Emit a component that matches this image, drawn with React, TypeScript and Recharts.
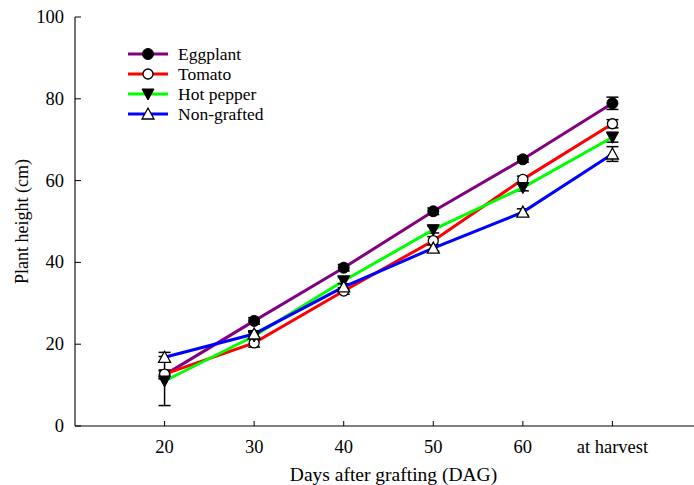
import React from 'react';
import { LineChart, Line, XAxis, YAxis, ErrorBar } from 'recharts';

const stages = ['20', '30', '40', '50', '60', 'at harvest'];

const eggplant = [12.5, 25.7, 38.7, 52.5, 65.2, 78.9];
const eggplantErr = [1.0, 0.8, 0.8, 0.8, 0.7, 1.5];
const tomato = [12.7, 20.3, 33.0, 45.3, 60.3, 73.9];
const tomatoErr = [1.0, 1.0, 0.8, 1.0, 0.8, 1.0];
const hotPepper = [11.0, 22.0, 35.5, 48.0, 58.3, 70.6];
const hotPepperErr = [6.0, 0.8, 0.8, 0.8, 0.8, 1.2];
const nonGrafted = [16.8, 22.5, 34.0, 43.5, 52.3, 66.5];
const nonGraftedErr = [1.2, 0.8, 0.8, 0.8, 0.8, 1.8];

const yTicks = [0, 20, 40, 60, 80, 100];

const data = stages.map((s, i) => ({
  x: i,
  stage: s,
  eggplant: eggplant[i],
  eggplantErr: eggplantErr[i],
  tomato: tomato[i],
  tomatoErr: tomatoErr[i],
  hotPepper: hotPepper[i],
  hotPepperErr: hotPepperErr[i],
  nonGrafted: nonGrafted[i],
  nonGraftedErr: nonGraftedErr[i],
}));

const FONT = "'Liberation Serif', 'Times New Roman', serif";

type Shape = 'filledCircle' | 'openCircle' | 'downTri' | 'upTri';

const Marker = ({ cx, cy, shape }: { cx: number; cy: number; shape: Shape }) => {
  if (cx == null || cy == null) return null;
  if (shape === 'filledCircle') return <circle cx={cx} cy={cy} r={5.5} fill="#000" stroke="#000" />;
  if (shape === 'openCircle') return <circle cx={cx} cy={cy} r={5} fill="#fff" stroke="#000" strokeWidth={1.3} />;
  if (shape === 'downTri')
    return <path d={`M${cx - 6},${cy - 5} L${cx + 6},${cy - 5} L${cx},${cy + 6} Z`} fill="#000" stroke="#000" />;
  return <path d={`M${cx - 6},${cy + 5} L${cx + 6},${cy + 5} L${cx},${cy - 6} Z`} fill="#fff" stroke="#000" strokeWidth={1.3} />;
};

const series = [
  { key: 'eggplant', name: 'Eggplant', color: '#800080', shape: 'filledCircle' as Shape },
  { key: 'tomato', name: 'Tomato', color: '#ff0000', shape: 'openCircle' as Shape },
  { key: 'hotPepper', name: 'Hot pepper', color: '#00ff00', shape: 'downTri' as Shape },
  { key: 'nonGrafted', name: 'Non-grafted', color: '#0000ff', shape: 'upTri' as Shape },
];

// legend drawn as an overlay in the upper left of the plot
const LegendBox = () => (
  <svg width={190} height={90} style={{ position: 'absolute', left: 120, top: 45 }}>
    {series.map((s, i) => {
      const y = 9 + i * 20;
      return (
        <g key={s.key}>
          <line x1={8} x2={48} y1={y} y2={y} stroke={s.color} strokeWidth={3} />
          <Marker cx={28} cy={y} shape={s.shape} />
          <text x={58} y={y + 6} style={{ fontFamily: FONT, fontSize: 17.5 }} fill="#000">{s.name}</text>
        </g>
      );
    })}
  </svg>
);

const YTick = (props: any) => {
  const { x, y, payload } = props;
  const ax = x + 11;
  return (
    <g>
      <line x1={ax} x2={ax + 6} y1={y} y2={y} stroke="#000" />
      <text x={x} y={y + 6} textAnchor="end" style={{ fontFamily: FONT, fontSize: 18.5 }} fill="#000">{payload.value}</text>
    </g>
  );
};

const XTick = (props: any) => {
  const { x, y, payload } = props;
  const ay = y - 12;
  return (
    <g>
      <line x1={x} x2={x} y1={ay} y2={ay - 5} stroke="#000" />
      <text x={x} y={y + 15} textAnchor="middle" style={{ fontFamily: FONT, fontSize: 18.5 }} fill="#000">{stages[payload.value]}</text>
    </g>
  );
};

export default function App() {
  return (
    <div style={{ position: 'absolute', left: 0, top: 0, width: 694, height: 485, overflow: 'hidden', background: '#fff' }}>
      <LineChart width={702} height={485} data={data} margin={{ top: 17, right: 0, bottom: 0, left: 0 }}>
        <XAxis
          type="number"
          dataKey="x"
          domain={[-1, 6]}
          ticks={[0, 1, 2, 3, 4, 5]}
          tick={<XTick />}
          tickLine={false}
          tickSize={0}
          tickMargin={12}
          height={59}
          stroke="#000"
          label={{
            content: (p: any) => (
              <text x={p.viewBox.x + p.viewBox.width / 2 + 5} y={p.viewBox.y + 55} textAnchor="middle" style={{ fontFamily: FONT, fontSize: 19.5 }} fill="#000">
                Days after grafting (DAG)
              </text>
            ),
          }}
        />
        <YAxis
          type="number"
          domain={[0, 100]}
          ticks={yTicks}
          tick={<YTick />}
          tickLine={false}
          tickSize={0}
          tickMargin={11}
          width={75}
          stroke="#444"
          strokeWidth={1.5}
          label={{
            content: (p: any) => (
              <text
                transform={`translate(${p.viewBox.x + 28},${p.viewBox.y + p.viewBox.height / 2}) rotate(-90)`}
                textAnchor="middle"
                style={{ fontFamily: FONT, fontSize: 18 }}
                fill="#000"
              >
                Plant height (cm)
              </text>
            ),
          }}
        />
        {series.map((s) => (
          <Line
            key={s.key}
            dataKey={s.key}
            name={s.name}
            stroke={s.color}
            strokeWidth={3}
            isAnimationActive={false}
            dot={(p: any) => <Marker key={`${s.key}-${p.index}`} cx={p.cx} cy={p.cy} shape={s.shape} />}
            activeDot={false}
          >
            <ErrorBar dataKey={`${s.key}Err`} direction="y" width={6} stroke="#000" strokeWidth={1.5} />
          </Line>
        ))}
      </LineChart>
      <LegendBox />
    </div>
  );
}
